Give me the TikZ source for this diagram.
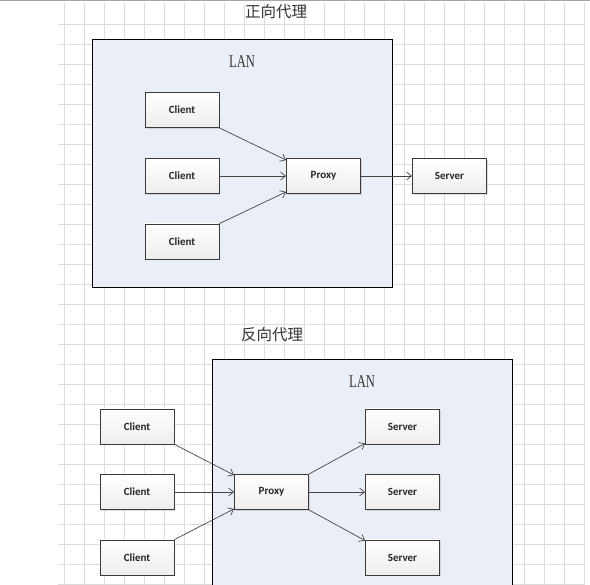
\documentclass[tikz,border=0pt]{standalone}
\usepackage{fontspec}
\setmainfont{Liberation Serif}
\newfontfamily\cjkfont{Noto Sans CJK SC}
\newfontfamily\boxfont{Carlito}
\usetikzlibrary{arrows.meta,shadows}
\definecolor{gridc}{HTML}{DCDCDC}
\definecolor{lanfill}{HTML}{EAEFF7}
\definecolor{boxline}{HTML}{3A3A3A}
\definecolor{arrowc}{HTML}{454545}
\tikzset{
  lanbox/.style={draw=black, line width=1pt, fill=lanfill, inner sep=0pt},
  unitbox/.style={draw=boxline, line width=0.8pt, top color=white, bottom color=black!7,
    minimum width=74pt, minimum height=35pt, inner sep=0pt,
    font=\boxfont\bfseries\fontsize{11}{13}\selectfont, text=black!85,
    drop shadow={opacity=0.25, shadow xshift=1.2pt, shadow yshift=-1.2pt}},
  title/.style={font=\cjkfont\fontsize{15.5}{18}\selectfont, text=black!80},
  lanlabel/.style={font=\fontsize{18}{20}\selectfont, xscale=0.7, text=black!80},
  link/.style={draw=arrowc, line width=0.7pt, -{Straight Barb[length=5pt,width=8pt]}}
}
\begin{document}
\begin{tikzpicture}[x=1pt,y=-1pt]
\useasboundingbox (0,0) rectangle (590,585);
\clip (0,0) rectangle (590,585);
\fill[white] (0,0) rectangle (590,585);
% grid
\foreach \gx in {64,84,...,584} \draw[gridc, line width=0.6pt] (\gx,3) -- (\gx,585);
\foreach \gy in {24,44,...,584} \draw[gridc, line width=0.6pt] (58,\gy) -- (584,\gy);
\draw[black!35, line width=1pt] (0,1) -- (590,1);

% ---------- forward proxy ----------
\node[title] (t1) at (276,12) {正向代理};
\node[lanbox, minimum width=300pt, minimum height=248pt] (lan1) at (242,164) {};
\node[lanlabel] (l1) at (242,62) {LAN};
\node[unitbox] (c1) at (182,110) {Client};
\node[unitbox] (c2) at (182,176) {Client};
\node[unitbox] (c3) at (182,241.5) {Client};
\node[unitbox] (p1) at (323.5,176) {Proxy};
\node[unitbox] (s1) at (449.5,176) {Server};
\draw[link] (c1.south east) -- ([yshift=-2pt]p1.north west);
\draw[link] (c2.east) -- (p1.west);
\draw[link] (c3.north east) -- ([yshift=2pt]p1.south west);
\draw[link] (p1.east) -- (s1.west);

% ---------- reverse proxy ----------
\node[title] (t2) at (272,335) {反向代理};
\node[lanbox, minimum width=300pt, minimum height=240pt] (lan2) at (362,480) {};
\node[lanlabel] (l2) at (362,382) {LAN};
\node[unitbox] (rc1) at (137,426.5) {Client};
\node[unitbox] (rc2) at (137,492) {Client};
\node[unitbox] (rc3) at (137,557.5) {Client};
\node[unitbox] (rp) at (271.5,492) {Proxy};
\node[unitbox] (rs1) at (402.5,426.5) {Server};
\node[unitbox] (rs2) at (402.5,492) {Server};
\node[unitbox] (rs3) at (402.5,557.5) {Server};
\draw[link] (rc1.south east) -- ([yshift=-1pt]rp.north west);
\draw[link] (rc2.east) -- (rp.west);
\draw[link] (rc3.north east) -- ([yshift=1pt]rp.south west);
\draw[link] (rp.north east) -- ([yshift=1pt]rs1.south west);
\draw[link] (rp.east) -- (rs2.west);
\draw[link] (rp.south east) -- ([yshift=-1pt]rs3.north west);
\end{tikzpicture}
\end{document}
